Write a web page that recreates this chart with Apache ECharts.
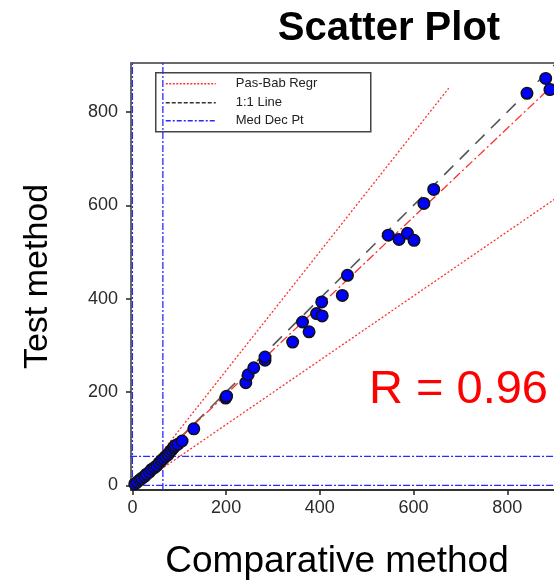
<!DOCTYPE html>
<html><head><meta charset="utf-8">
<script src="https://cdn.jsdelivr.net/npm/echarts@6/dist/echarts.min.js"></script>
<style>html,body{margin:0;padding:0;background:#fff}#c{width:554px;height:582px}</style>
</head><body><div id="c"></div>
<script>
// Data
const points = [
  [5,3],[10,7],[16,12],[20,15],[26,19],[30,24],[36,28],[41,34],[47,38],[52,42],
  [57,48],[62,53],[66,57],[71,62],[76,66],[80,72],[84,76],[88,81],[91,85],[97,88],
  [106,95],[131,121],
  [199,187],[201,191],[242,220],[247,237],[259,252],[283,268],[283,275],[342,307],
  [363,350],[377,329],[393,368],[405,363],[404,393],[448,407],[459,450],
  [546,536],[569,527],[587,540],[601,525],[622,604],[643,634],[842,840],[882,872],[891,848]
];
const passBabRegr = [[0,5],[940,898]];
const oneToOneLine = [[0,0],[940,940]];
const ciUpper = [[7,0],[675,851]];
const ciLower = [[11,0],[940,640]];
const medDecVertical = [[[0,-10],[0,910]],[[65,-10],[65,910]]];
const medDecHorizontal = [[[-5,0],[940,0]],[[-5,62],[940,62]]];
const tickValues = [0,200,400,600,800];
const legendLabels = ['Pas-Bab Regr','1:1 Line','Med Dec Pt'];
const rText = 'R = 0.96';

const FONT = '"Liberation Sans", Arial, sans-serif';
const blue = '#2a2aff';
const red = '#ff3030';

const series = [];
medDecVertical.concat(medDecHorizontal).forEach(seg => series.push({
  type:'line', data:seg, showSymbol:false, silent:true, z:1,
  lineStyle:{color:blue, width:1.3, type:[7,2,2,2]}
}));
series.push({type:'line', data:ciUpper, showSymbol:false, silent:true, z:2,
  lineStyle:{color:red, width:1.3, type:[2,2]}});
series.push({type:'line', data:ciLower, showSymbol:false, silent:true, z:2,
  lineStyle:{color:red, width:1.3, type:[2,2]}});
series.push({type:'line', data:oneToOneLine, showSymbol:false, silent:true, z:2,
  lineStyle:{color:'#555', width:1.6, type:[13,9]}});
series.push({type:'line', data:passBabRegr, showSymbol:false, silent:true, z:3,
  lineStyle:{color:red, width:1.3, type:[9,3,2,3]}});
series.push({type:'scatter', data:points, symbolSize:11.5, z:5,
  itemStyle:{color:'#0000ff', opacity:1, borderColor:'#111', borderWidth:1.5}});

const chart = echarts.init(document.getElementById('c'), null, {renderer:'canvas'});
chart.setOption({
  animation:false,
  backgroundColor:'#fff',
  title:{text:'Scatter Plot', left:384, top:4, textAlign:'center',
    textStyle:{fontSize:40, fontWeight:'bold', color:'#000', fontFamily:FONT}},
  grid:{left:131, top:63, width:440, height:427, show:true, borderColor:'#6a6a6a', borderWidth:2,
    containLabel:false, outerBoundsMode:'none'},
  xAxis:{type:'value', min:-3, max:936,
    name:'Comparative method', nameLocation:'middle', nameGap:53,
    nameTextStyle:{fontSize:37, color:'#000', fontFamily:FONT, padding:[0,28,0,0]},
    axisLine:{show:true, onZero:false, lineStyle:{color:'#333', width:2}},
    axisTick:{show:true, length:5, customValues:tickValues, lineStyle:{color:'#222', width:1.5}},
    axisLabel:{customValues:tickValues, fontSize:18, color:'#2a2a2a', margin:9, fontFamily:FONT},
    splitLine:{show:false}},
  yAxis:{type:'value', min:-10, max:905,
    name:'Test method', nameLocation:'middle', nameGap:76,
    nameTextStyle:{fontSize:34, color:'#000', fontFamily:FONT},
    axisLine:{show:true, onZero:false, lineStyle:{color:'#6a6a6a', width:2}},
    axisTick:{show:true, length:5, customValues:tickValues, lineStyle:{color:'#222', width:1.5}},
    axisLabel:{customValues:tickValues, fontSize:18, color:'#2a2a2a', margin:13, fontFamily:FONT},
    splitLine:{show:false}},
  series:series,
  graphic:[
    {type:'text', left:369, top:367, z:10,
      style:{text:rText, fontSize:47, fill:'#ff0000', fontFamily:FONT}},
    {type:'group', left:155, top:72, z:20, children:[
      {type:'rect', shape:{x:0,y:0,width:215,height:59}, style:{fill:'#fff', stroke:'#444', lineWidth:1.5}},
      {type:'line', shape:{x1:10,y1:11,x2:60,y2:11}, style:{stroke:red, lineWidth:1.3, lineDash:[2,1.5]}},
      {type:'line', shape:{x1:10,y1:30,x2:60,y2:30}, style:{stroke:'#333', lineWidth:1.3, lineDash:[4,2]}},
      {type:'line', shape:{x1:10,y1:48,x2:60,y2:48}, style:{stroke:blue, lineWidth:1.3, lineDash:[5,2,2,2]}},
      {type:'text', x:80, y:11, style:{text:legendLabels[0], fontSize:13, fill:'#222', fontFamily:FONT, verticalAlign:'middle'}},
      {type:'text', x:80, y:30, style:{text:legendLabels[1], fontSize:13, fill:'#222', fontFamily:FONT, verticalAlign:'middle'}},
      {type:'text', x:80, y:48, style:{text:legendLabels[2], fontSize:13, fill:'#222', fontFamily:FONT, verticalAlign:'middle'}}
    ]}
  ]
});
</script></body></html>
